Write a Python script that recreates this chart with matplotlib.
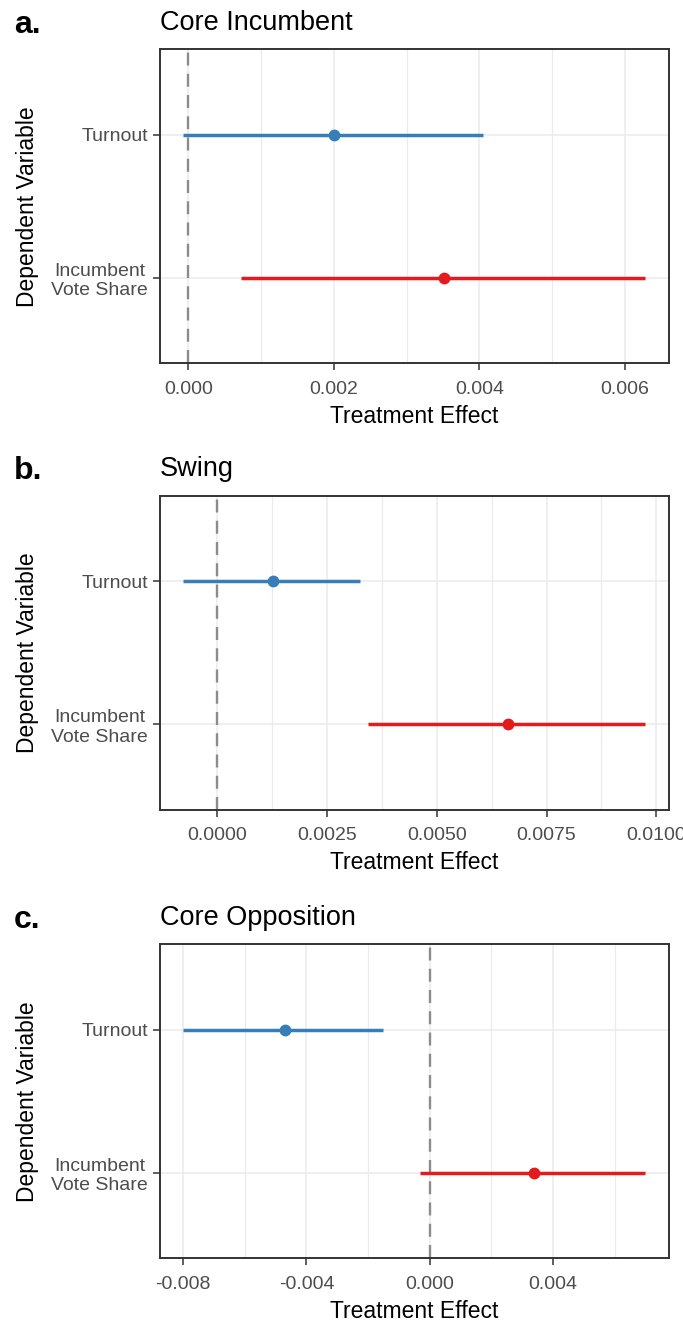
import numpy as np
import matplotlib
matplotlib.use("Agg")
import matplotlib.pyplot as plt
from matplotlib.ticker import FixedLocator

plt.rcParams["font.family"] = ["Liberation Sans", "DejaVu Sans"]

# data
panel_letters = ["a.", "b.", "c."]
panel_titles = ["Core Incumbent", "Swing", "Core Opposition"]
outcomes = ["Incumbent\nVote Share", "Turnout"]   # bottom to top
colors = ["#E41A1C", "#377EB8"]

# [incumbent vote share, turnout]
est = [[0.00351, 0.00200],
       [0.00661, 0.00127],
       [0.00340, -0.00470]]
lo = [[0.00073, -0.00007],
      [0.00344, -0.00078],
      [-0.00030, -0.00800]]
hi = [[0.00628, 0.00405],
      [0.00975, 0.00325],
      [0.00700, -0.00150]]

major_ticks = [[0.0, 0.002, 0.004, 0.006],
               [0.0, 0.0025, 0.005, 0.0075, 0.01],
               [-0.008, -0.004, 0.0, 0.004]]
tick_labels = [["0.000", "0.002", "0.004", "0.006"],
               ["0.0000", "0.0025", "0.0050", "0.0075", "0.0100"],
               ["-0.008", "-0.004", "0.000", "0.004"]]
minor_ticks = [[0.001, 0.003, 0.005],
               [0.00125, 0.00375, 0.00625, 0.00875],
               [-0.006, -0.002, 0.002, 0.006]]

W, H = 683, 1324
fig = plt.figure(figsize=(W / 100, H / 100), dpi=100)

ax_left, ax_right = 160, 668.5
ax_tops = [49.3, 495.7, 944.3]
ax_h = 314

for i in range(3):
    top = ax_tops[i]
    ax = fig.add_axes([ax_left / W, (H - top - ax_h) / H,
                       (ax_right - ax_left) / W, ax_h / H])

    ax.axvline(0, color="#8C8C8C", lw=1.7, ls=(0, (5.5, 3.5)), zorder=2)
    ypos = np.arange(1, len(outcomes) + 1)
    for j in range(len(outcomes)):
        ax.hlines(ypos[j], lo[i][j], hi[i][j], color=colors[j], lw=2.5, zorder=3)
        ax.plot(est[i][j], ypos[j], "o", color=colors[j], ms=7.5, zorder=4)

    ax.margins(x=0.05)
    ax.set_ylim(0.4, len(outcomes) + 0.6)
    ax.set_yticks(ypos)
    ax.set_yticklabels(outcomes, multialignment="center")
    ax.xaxis.set_major_locator(FixedLocator(major_ticks[i]))
    ax.set_xticklabels(tick_labels[i])
    ax.xaxis.set_minor_locator(FixedLocator(minor_ticks[i]))

    ax.grid(True, which="major", color="#EBEBEB", lw=1.1, zorder=0)
    ax.grid(True, which="minor", axis="x", color="#EBEBEB", lw=0.9, zorder=0)
    ax.set_axisbelow(True)
    ax.tick_params(which="minor", length=0)
    ax.tick_params(axis="both", which="major", length=5, width=1.1,
                   color="#333333", labelcolor="#4D4D4D", labelsize=14)
    ax.tick_params(axis="y", pad=3.6)
    ax.tick_params(axis="x", pad=7.5)
    for s in ax.spines.values():
        s.set_color("#333333")
        s.set_linewidth(1.4)

    ax.set_xlabel("Treatment Effect", fontsize=16.5, labelpad=5)
    ax.set_ylabel("Dependent Variable", fontsize=16.5)
    ax.yaxis.set_label_coords((39 - ax_left) / (ax_right - ax_left), 0.5)
    ax.set_title(panel_titles[i], loc="left", fontsize=19.5, pad=14)

    fig.text(14 / W, 1 - (top - 16.3) / H, panel_letters[i],
             fontsize=23, fontweight="bold", va="baseline")

fig.savefig("out.png", dpi=100)
